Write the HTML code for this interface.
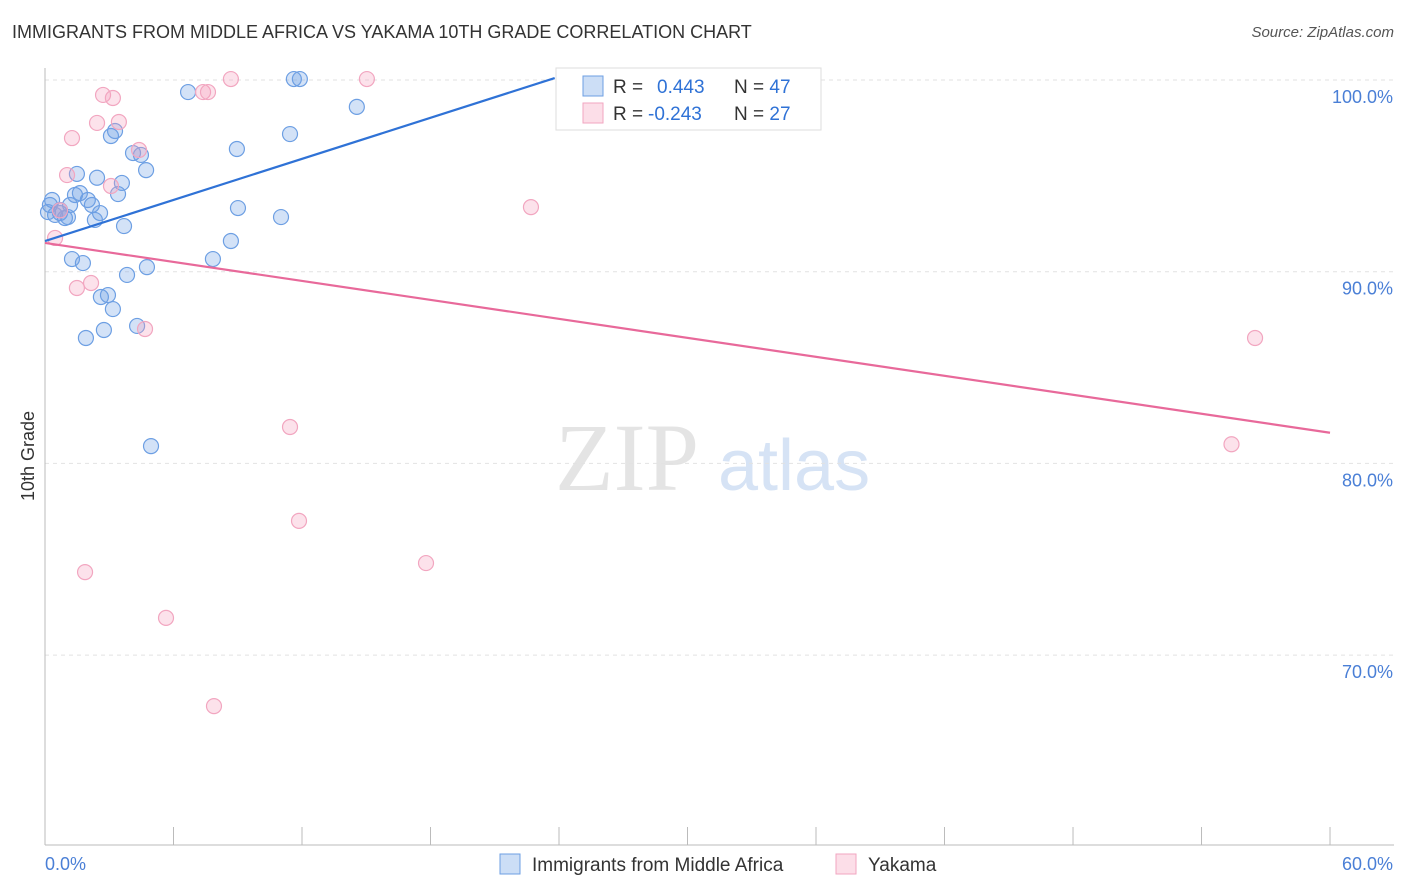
<!DOCTYPE html>
<html><head><meta charset="utf-8"><style>
body{margin:0;background:#fff;font-family:"Liberation Sans",sans-serif;}
#wrap{position:relative;width:1406px;height:892px;overflow:hidden}
.t{position:absolute;white-space:nowrap}
</style></head><body>
<div id="wrap">
<div class="t" style="left:12px;top:22px;font-size:18px;color:#333">IMMIGRANTS FROM MIDDLE AFRICA VS YAKAMA 10TH GRADE CORRELATION CHART</div>
<div class="t" style="right:12px;top:24px;font-size:15px;color:#555;font-style:italic">Source: ZipAtlas.com</div>
<svg id="svg" width="1406" height="892" style="position:absolute;left:0;top:0"></svg>
</div>
<script>
const xTicks=[0,6,12,18,24,30,36,42,48,54,60];
const yTicks=[100,90,80,70];
const yTickLabels=["100.0%","90.0%","80.0%","70.0%"];
const blueX=[0.23,0.47,0.70,0.93,0.33,0.14,1.17,1.40,1.63,2.0,2.19,2.33,2.57,2.43,1.49,1.26,1.77,2.61,2.94,3.17,3.83,3.69,3.41,3.59,2.75,1.91,4.30,4.76,4.95,4.72,4.11,4.48,3.08,3.27,6.68,8.96,9.01,8.68,7.84,11.02,11.44,11.62,11.9,14.56,0.7,1.07];
const blueY=[93.48,92.96,93.22,92.8,93.74,93.11,93.48,94.0,94.1,93.74,93.48,92.7,93.06,94.9,95.1,90.66,90.45,88.68,88.78,88.05,89.83,92.38,94.05,94.63,86.96,86.54,87.17,90.24,80.9,95.3,96.19,96.09,97.08,97.34,99.37,96.4,93.32,91.6,90.66,92.85,97.18,100.05,100.05,98.6,93.06,92.85];
const pinkX=[0.47,1.26,1.03,1.49,2.15,1.87,2.43,2.71,3.17,3.45,3.08,4.39,4.67,5.65,7.38,7.61,7.89,8.68,11.44,11.86,15.03,17.79,22.69,55.4,56.5,0.7];
const pinkY=[91.76,96.97,95.04,89.15,89.41,74.33,97.76,99.22,99.06,97.81,94.47,96.35,87.01,71.94,99.37,99.37,67.34,100.05,81.9,77.0,100.05,74.8,93.37,81.0,86.54,93.2];
const blueLine=[[0,91.6],[23.8,100.1]];
const pinkLine=[[0,91.5],[60,81.6]];
const X=v=>45+v*21.417, Y=v=>80+(100-v)*19.17;
const svg=document.getElementById('svg');
const NS="http://www.w3.org/2000/svg";
function mk(tag,attrs,parent){const e=document.createElementNS(NS,tag);for(const k in attrs)e.setAttribute(k,attrs[k]);(parent||svg).appendChild(e);return e;}
let wm=mk('text',{x:555,y:490,'font-size':96,'font-family':'Liberation Serif,serif',fill:'#e4e4e4'});wm.textContent='ZIP';


let wm2=mk('text',{x:718,y:490,'font-size':72,'font-family':'Liberation Sans,sans-serif',fill:'#d6e3f5'});wm2.textContent='atlas';


yTicks.forEach((v,i)=>{
 const g=mk('line',{x1:45,x2:1394,y1:Y(v),y2:Y(v),stroke:'#e2e2e2','stroke-dasharray':'4,4'});
 
 
 const t=mk('text',{x:1393,y:Y(v)+23,'text-anchor':'end','font-size':18,fill:'#4a7fd6'});t.textContent=yTickLabels[i];
 
 
});
const ax=mk('line',{x1:45,x2:45,y1:68,y2:845,stroke:'#bbb'});


const bx=mk('line',{x1:45,x2:1394,y1:845,y2:845,stroke:'#bbb'});


xTicks.forEach(v=>{const l=mk('line',{x1:X(v),x2:X(v),y1:827,y2:845,stroke:'#bbb'});
 
 });
[['0.0%',45,'start'],['60.0%',1393,'end']].forEach(a=>{const t=mk('text',{x:a[1],y:870,'text-anchor':a[2],'font-size':18,fill:'#4a7fd6'});t.textContent=a[0];
 
 });
const yt=mk('text',{x:34,y:456,transform:'rotate(-90 34 456)','text-anchor':'middle','font-size':18,fill:'#333'});yt.textContent='10th Grade';


blueX.forEach((x,i)=>{const c=mk('circle',{cx:X(x),cy:Y(blueY[i]),r:7.5,fill:'rgba(110,160,230,0.3)',stroke:'#6d9fe3','stroke-width':1.2});
 
 });
pinkX.forEach((x,i)=>{const c=mk('circle',{cx:X(x),cy:Y(pinkY[i]),r:7.5,fill:'rgba(245,160,190,0.3)',stroke:'#f2a6c0','stroke-width':1.2});
 
 });
const bl=mk('line',{x1:X(blueLine[0][0]),y1:Y(blueLine[0][1]),x2:X(blueLine[1][0]),y2:Y(blueLine[1][1]),stroke:'#2f72d6','stroke-width':2.2});


const pl=mk('line',{x1:X(pinkLine[0][0]),y1:Y(pinkLine[0][1]),x2:X(pinkLine[1][0]),y2:Y(pinkLine[1][1]),stroke:'#e8699a','stroke-width':2.2});


const lb=mk('rect',{x:556,y:68,width:265,height:62,fill:'#fff',stroke:'#ddd'});


[[86,'rgba(110,160,230,0.35)','#6d9fe3','0.443','47'],[113,'rgba(245,160,190,0.35)','#f2a6c0','-0.243','27']].forEach(r=>{
 const s=mk('rect',{x:583,y:r[0]-10,width:20,height:20,fill:r[1],stroke:r[2]});
 
 
 const t=mk('text',{x:613,y:r[0]+7,'font-size':19,fill:'#333'});
 t.innerHTML='R = <tspan fill="#2f72d6" x="'+(r[3][0]=='-'?648:657)+'">'+r[3]+'</tspan><tspan x="734">N = </tspan><tspan fill="#2f72d6">'+r[4]+'</tspan>';
 
 
});
[[500,'rgba(110,160,230,0.35)','#6d9fe3','Immigrants from Middle Africa'],[836,'rgba(245,160,190,0.35)','#f2a6c0','Yakama']].forEach(r=>{
 const s=mk('rect',{x:r[0],y:854,width:20,height:20,fill:r[1],stroke:r[2]});
 
 
 const t=mk('text',{x:r[0]+32,y:871,'font-size':19,fill:'#333'});t.textContent=r[3];
 
 
});
</script>
</body></html>
